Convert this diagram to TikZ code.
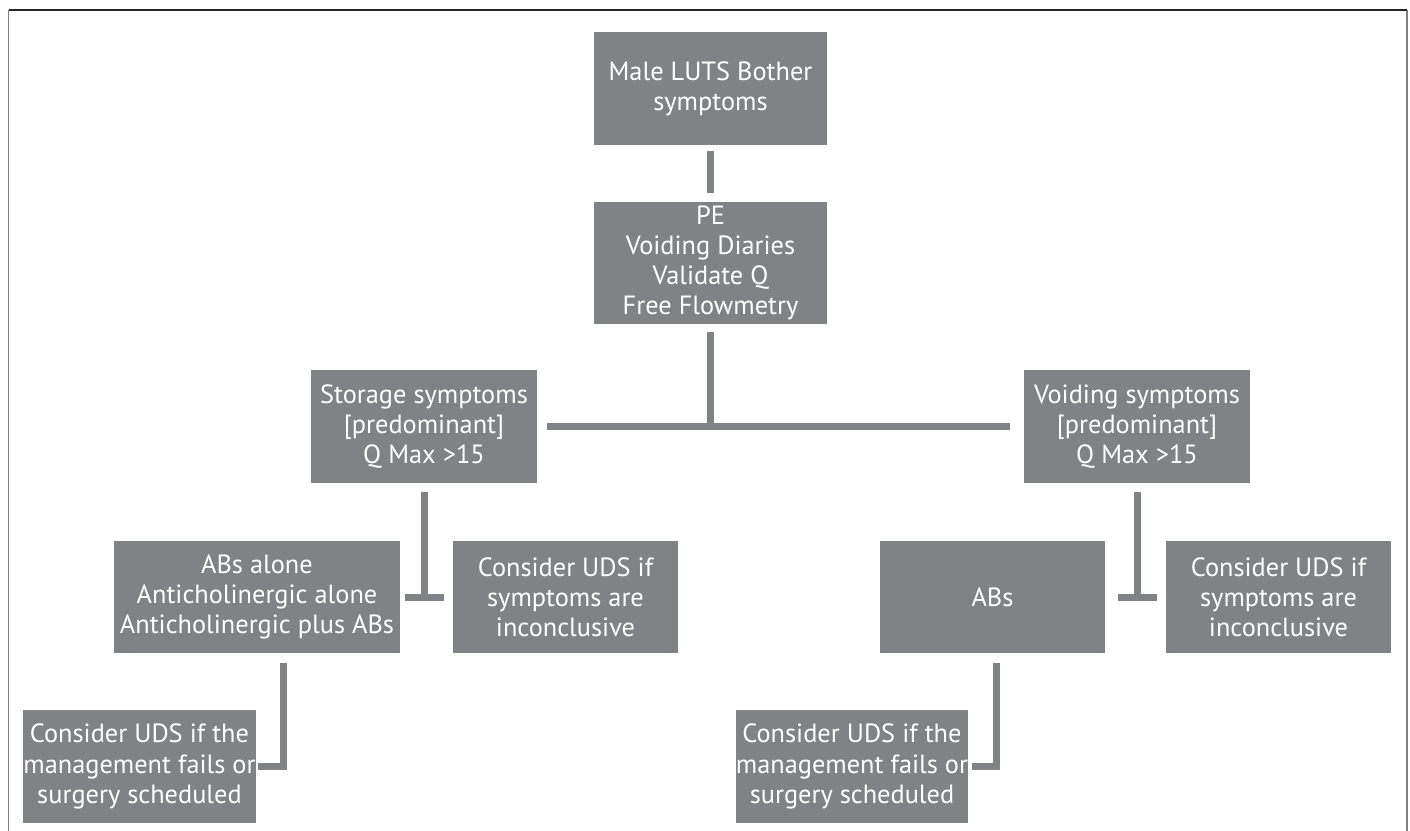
\documentclass[tikz,border=0pt]{standalone}
\usepackage{fontspec}
\setmainfont{PT Sans}
\usepackage{tikz}
\definecolor{boxgrey}{RGB}{128,130,133}

\begin{document}
\begin{tikzpicture}[x=0.02cm,y=-0.02cm,
  box/.style={fill=boxgrey, text=white, align=center, inner sep=0pt, font=\fontsize{15}{17.2}\selectfont},
  link/.style={draw=boxgrey, line width=0.14cm}]
\useasboundingbox (0,0) rectangle (1410,831);

% frame
\draw[gray, line width=0.9pt] (8.5,831) -- (8.5,10);
\draw[gray, line width=0.9pt] (1407,831) -- (1407,10);
\draw[black!85, line width=0.8pt] (8.5,10) -- (1407,10);

\node[box, minimum width=4.66cm, minimum height=2.26cm] (male) at (710.5,88.5) {Male LUTS Bother\\symptoms};
\node[box, minimum width=4.66cm, minimum height=2.44cm] (pe) at (710.5,263) {PE\\Voiding Diaries\\Validate Q\\Free Flowmetry};
\node[box, minimum width=4.52cm, minimum height=2.26cm] (storage) at (424,426.5) {Storage symptoms\\{[predominant]}\\Q Max >15};
\node[box, minimum width=4.52cm, minimum height=2.26cm] (voiding) at (1137,426.5) {Voiding symptoms\\{[predominant]}\\Q Max >15};
\node[box, minimum width=5.72cm, minimum height=2.24cm] (abs) at (257,597) {ABs alone\\Anticholinergic alone\\Anticholinergic plus ABs};
\node[box, minimum width=4.5cm, minimum height=2.24cm] (udsl) at (565.5,597) {Consider UDS if\\symptoms are\\inconclusive};
\node[box, minimum width=4.5cm, minimum height=2.24cm] (ab) at (992.5,597) {ABs};
\node[box, minimum width=4.5cm, minimum height=2.24cm] (udsr) at (1278.5,597) {Consider UDS if\\symptoms are\\inconclusive};
\node[box, minimum width=4.66cm, minimum height=2.26cm] (failL) at (139.5,766.5) {Consider UDS if the\\management fails or\\surgery scheduled};
\node[box, minimum width=4.64cm, minimum height=2.26cm] (failR) at (852,766.5) {Consider UDS if the\\management fails or\\surgery scheduled};

\coordinate (split) at (pe.south |- storage.east);
\coordinate (tl) at (storage.south |- abs.east);
\coordinate (tr) at (voiding.south |- ab.east);

\draw[link, shorten <=0.12cm, shorten >=0.18cm] (male.south) -- (pe.north);
\draw[link, shorten <=0.16cm] (pe.south) -- (split);
\draw[link, shorten <=0.2cm, shorten >=0.28cm] (storage.east) -- (voiding.west);
\draw[link, shorten <=0.18cm] (storage.south) -- (tl);
\draw[link] ([xshift=-0.39cm]tl) -- ([xshift=0.39cm]tl);
\draw[link, shorten <=0.18cm] (voiding.south) -- (tr);
\draw[link] ([xshift=-0.39cm]tr) -- ([xshift=0.39cm]tr);
\draw[link, shorten <=0.2cm, shorten >=0.04cm] ([xshift=0.54cm]abs.south) |- (failL.east);
\draw[link, shorten <=0.2cm, shorten >=0.08cm] ([xshift=0.08cm]ab.south) |- (failR.east);
\end{tikzpicture}
\end{document}
